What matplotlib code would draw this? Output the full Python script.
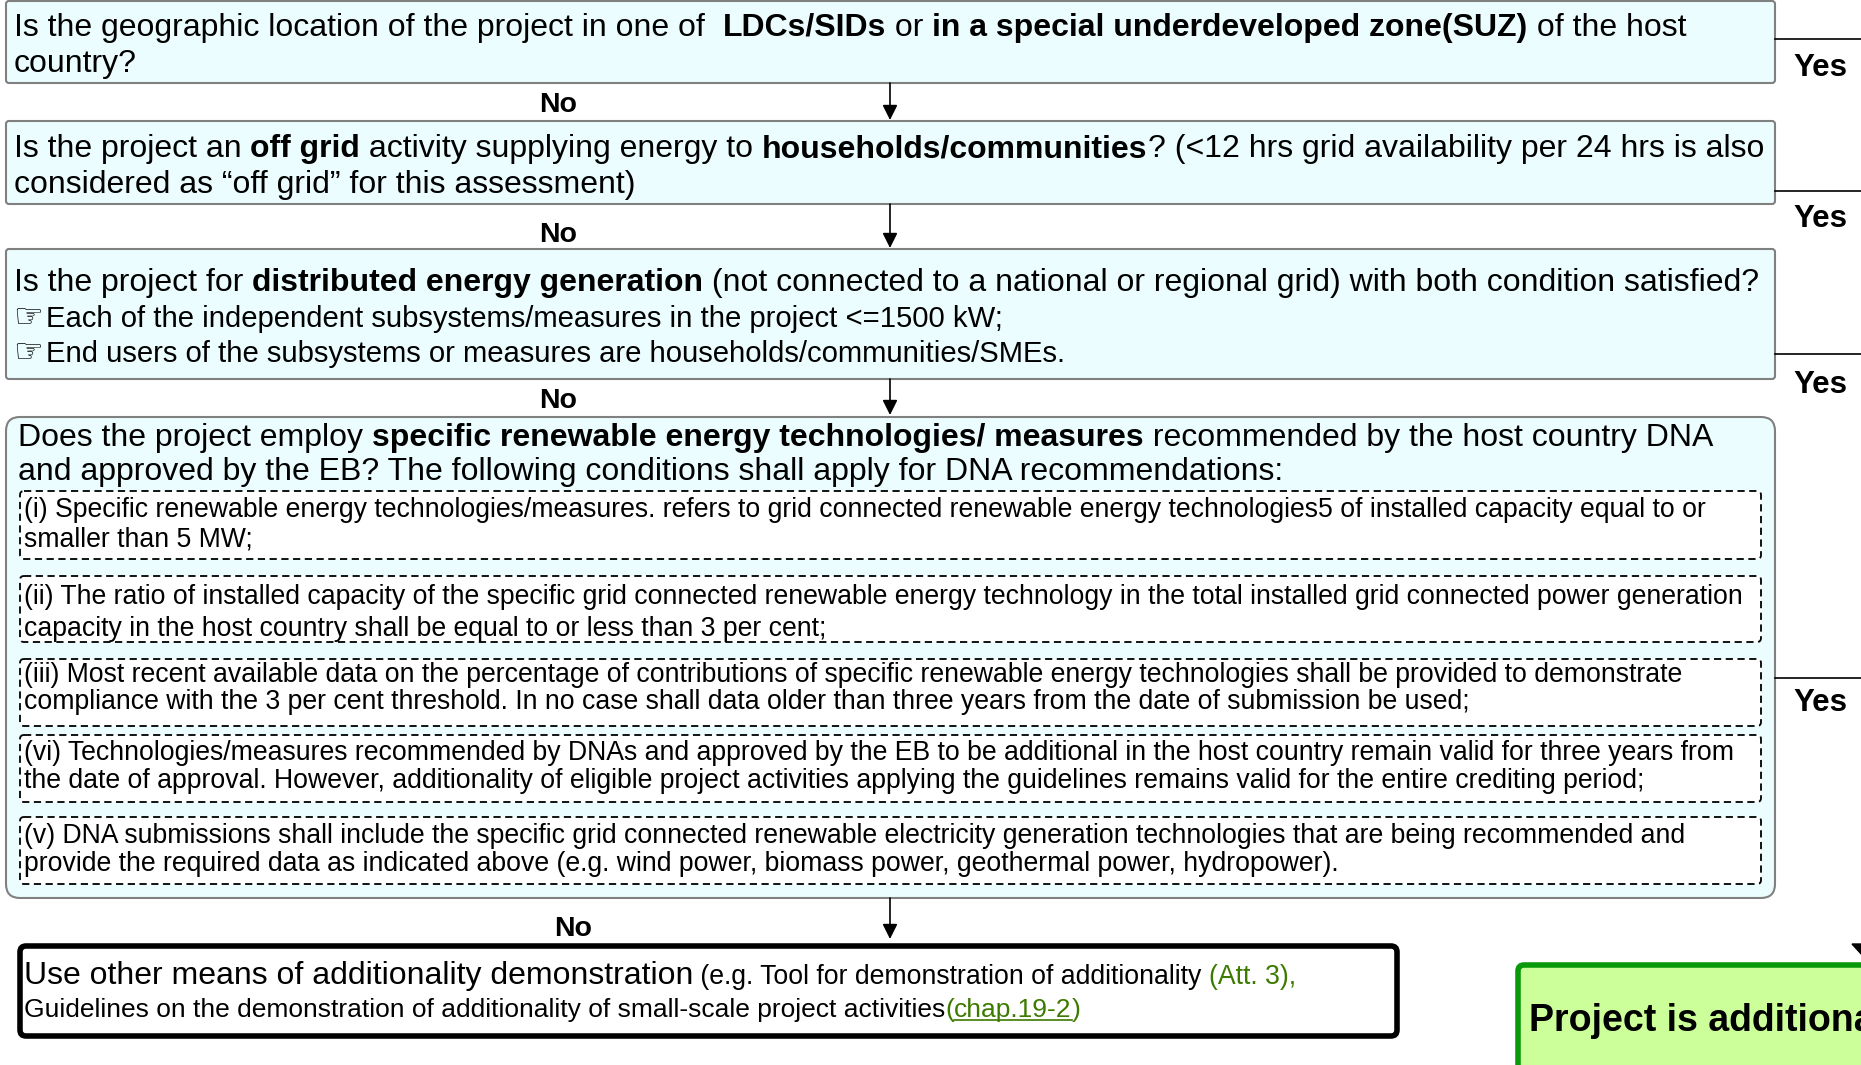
"""
Additionality flowchart for small-scale project activities.
"""

import matplotlib.pyplot as plt
from matplotlib.patches import FancyBboxPatch, Polygon

plt.rcParams['font.family'] = ['Liberation Sans', 'DejaVu Sans']

W, H = 1861, 1065
CYAN = '#ebfdfe'
EDGE = '#808080'
GREEN_TXT = '#3d7a00'

# question texts, as runs of (text, weight or colour, underline)
q1_lines = [
    [("Is the geographic location of the project in one of  ", 'normal'), ("LDCs/SIDs", 'bold'),
     (" or ", 'normal'), ("in a special underdeveloped zone(SUZ)", 'bold'), (" of the host", 'normal')],
    [("country?", 'normal')],
]
q2_lines = [
    [("Is the project an ", 'normal'), ("off grid", 'bold'), (" activity supplying energy to ", 'normal'),
     ("households/communities", 'bold'), ("? (<12 hrs grid availability per 24 hrs is also", 'normal')],
    [("considered as \u201coff grid\u201d for this assessment)", 'normal')],
]
q3_head = [("Is the project for ", 'normal'), ("distributed energy generation", 'bold'),
           (" (not connected to a national or regional grid) with both condition satisfied?", 'normal')]
q3_bullets = ["Each of the independent subsystems/measures in the project <=1500 kW;",
              "End users of the subsystems or measures are households/communities/SMEs."]
q4_lines = [
    [("Does the project employ ", 'normal'), ("specific renewable energy technologies/ measures", 'bold'),
     (" recommended by the host country DNA", 'normal')],
    [("and approved by the EB? The following conditions shall apply for DNA recommendations:", 'normal')],
]
conditions = [
    ["(i) Specific renewable energy technologies/measures. refers to grid connected renewable energy technologies5 of installed capacity equal to or",
     "smaller than 5 MW;"],
    ["(ii) The ratio of installed capacity of the specific grid connected renewable energy technology in the total installed grid connected power generation",
     "capacity in the host country shall be equal to or less than 3 per cent;"],
    ["(iii) Most recent available data on the percentage of contributions of specific renewable energy technologies shall be provided to demonstrate",
     "compliance with the 3 per cent threshold. In no case shall data older than three years from the date of submission be used;"],
    ["(vi) Technologies/measures recommended by DNAs and approved by the EB to be additional in the host country remain valid for three years from",
     "the date of approval. However, additionality of eligible project activities applying the guidelines remains valid for the entire crediting period;"],
    ["(v) DNA submissions shall include the specific grid connected renewable electricity generation technologies that are being recommended and",
     "provide the required data as indicated above (e.g. wind power, biomass power, geothermal power, hydropower)."],
]
other_means = "Use other means of additionality demonstration"
other_rest = [(" (e.g. Tool for demonstration of additionality ", 'k', False), ("(Att. 3),", GREEN_TXT, False)]
other_line2 = [("Guidelines on the demonstration of additionality of small-scale project activities", 'k', False),
               ("(", GREEN_TXT, False), ("chap.19-2", GREEN_TXT, True), (")", GREEN_TXT, False)]
result_text = "Project is additional"

fig = plt.figure(figsize=(W / 100, H / 100), dpi=100)
ax = fig.add_axes([0, 0, 1, 1])
ax.set_xlim(0, W)
ax.set_ylim(H, 0)
ax.axis('off')
renderer = fig.canvas.get_renderer()


def text_width(s, size, weight):
    t = ax.text(0, 0, s + '|', fontsize=size, fontweight=weight)
    w1 = t.get_window_extent(renderer).width
    t.set_text('|')
    w2 = t.get_window_extent(renderer).width
    t.remove()
    return w1 - w2


def draw_runs(x, y, runs, size):
    for run in runs:
        s = run[0]
        wt = run[1] if run[1] in ('normal', 'bold') else 'normal'
        color = 'k' if run[1] in ('normal', 'bold') else run[1]
        underline = run[2] if len(run) > 2 else False
        ax.text(x, y, s, fontsize=size, fontweight=wt, color=color, va='baseline', ha='left', zorder=3)
        w = text_width(s, size, wt)
        if underline:
            ax.plot([x, x + w], [y + 3, y + 3], color=color, lw=1.2, zorder=3)
        x += w


def box(x0, y0, x1, y1, fc, ec, lw, r, ls='-', z=1):
    p = FancyBboxPatch((x0, y0), x1 - x0, y1 - y0, boxstyle=f"round,pad=0,rounding_size={r}",
                       fc=fc, ec=ec, lw=lw, ls=ls, zorder=z)
    ax.add_patch(p)


def arrow_down(x, y0, y1):
    ax.annotate('', xy=(x, y1), xytext=(x, y0),
                arrowprops=dict(arrowstyle='-|>,head_length=0.9,head_width=0.45', color='k', lw=1.2,
                                shrinkA=0, shrinkB=0))


def yes_branch(y_line, y_label):
    ax.plot([1775, W], [y_line, y_line], color='k', lw=1.2)
    ax.text(1820, y_label, "Yes", fontsize=22.5, fontweight='bold', ha='center', va='baseline')


# question boxes
box(6, 1, 1775, 83, CYAN, EDGE, 1.5, 3)
box(6, 121, 1775, 204, CYAN, EDGE, 1.5, 3)
box(6, 249, 1775, 379, CYAN, EDGE, 1.5, 3)
box(6, 417, 1775, 898, CYAN, EDGE, 1.5, 14)

for i, line in enumerate(q1_lines):
    draw_runs(14, 36 + 36 * i, line, 23)
for i, line in enumerate(q2_lines):
    draw_runs(14, 157 + 36 * i, line, 23)
draw_runs(14, 291, q3_head, 23)
for i, s in enumerate(q3_bullets):
    yb = 327 + 35.5 * i
    ax.text(13, yb, "\u261e", fontsize=24, va='baseline', ha='left', family='DejaVu Sans')
    ax.text(46, yb, s, fontsize=21.1, va='baseline', ha='left')
for i, line in enumerate(q4_lines):
    draw_runs(18, 446 + 34 * i, line, 23)

cond_tops = [491, 576, 659, 735, 817]
cond_bots = [559, 642, 726, 802, 884]
cond_base = [517, 604, 682, 760, 843]
cond_gap = [29, 32, 27, 28, 28]
for top, bot, base, gap, lines in zip(cond_tops, cond_bots, cond_base, cond_gap, conditions):
    box(20, top, 1761, bot, 'white', 'k', 1.3, 4, ls=(0, (4, 2.5)), z=2)
    for j, s in enumerate(lines):
        ax.text(24, base + gap * j, s, fontsize=19.2, va='baseline', ha='left', zorder=3)

# "No" arrows
no_arrows = [(83, 120), (204, 248), (379, 415), (898, 939)]
no_labels = [112, 242, 408, 936]
no_x = [558, 558, 558, 573]
for (a, b), ly, lx in zip(no_arrows, no_labels, no_x):
    arrow_down(890, a, b)
    ax.text(lx, ly, "No", fontsize=20.5, fontweight='bold', ha='center', va='baseline')

# "Yes" branches
for yl, yt in zip([39, 191, 354, 678], [76, 227, 393, 711]):
    yes_branch(yl, yt)

# final boxes
box(20, 946, 1397, 1036, 'white', 'k', 4, 6, z=2)
draw_runs(24, 984, [(other_means, 'normal')], 23)
draw_runs(24 + text_width(other_means, 23, 'normal'), 984, other_rest, 19.2)
draw_runs(24, 1017, other_line2, 19)

box(1518, 965, 1900, 1100, '#ccff99', '#0a990a', 4, 6, z=2)
ax.text(1529, 1031, result_text, fontsize=27, fontweight='bold', va='baseline', ha='left', zorder=3)
# arrowhead of the "Yes" line coming down off the right edge
ax.add_patch(Polygon([(1852, 944), (1876, 944), (1864, 957)], closed=True, fc='k', ec='k', zorder=4))

fig.savefig('out.png', dpi=100)
